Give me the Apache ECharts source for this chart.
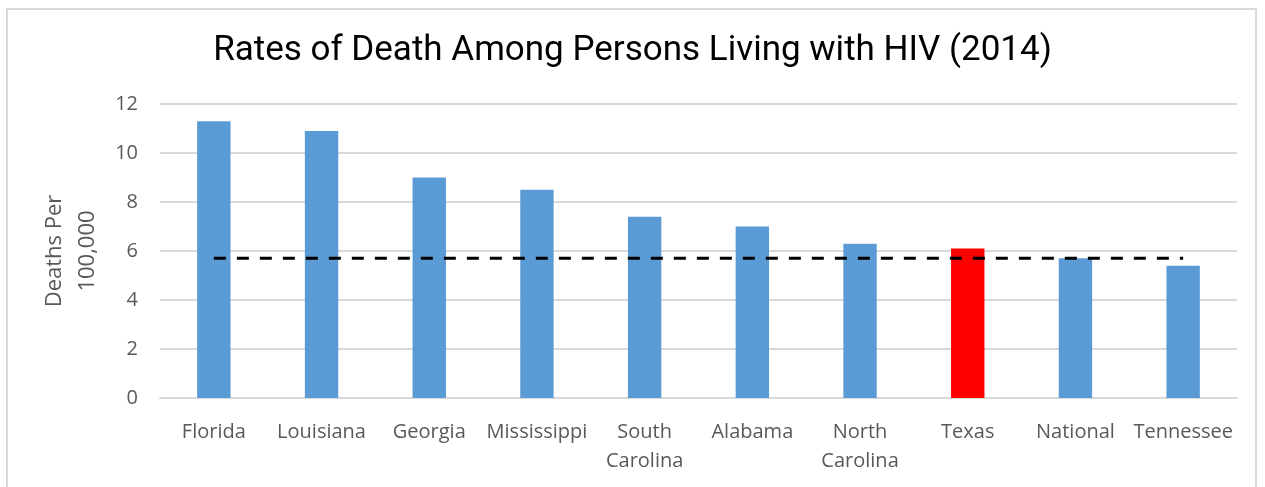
<!DOCTYPE html>
<html>
<head>
<meta charset="utf-8">
<script src="https://cdn.jsdelivr.net/npm/echarts@6/dist/echarts.min.js"></script>
<style>
  html, body { margin: 0; padding: 0; background: #fff; }
  #frame { position: absolute; left: 6px; top: 8px; width: 1251px; height: 490px; border: 2px solid #d9d9d9; box-sizing: border-box; }
  #chart { position: absolute; left: 0; top: 0; width: 1265px; height: 487px; }
</style>
</head>
<body>
<div id="frame"></div>
<div id="chart"></div>
<script>
var states = ['Florida', 'Louisiana', 'Georgia', 'Mississippi', 'South\nCarolina',
    'Alabama', 'North\nCarolina', 'Texas', 'National', 'Tennessee'];
var deathRates = [11.3, 10.9, 9.0, 8.5, 7.4, 7.0, 6.3, 6.1, 5.7, 5.4];
var nationalRate = [5.7, 5.7, 5.7, 5.7, 5.7, 5.7, 5.7, 5.7, 5.7, 5.7];
var highlight = 'Texas';

var chart = echarts.init(document.getElementById('chart'));

var barData = [];
for (var i = 0; i < states.length; i++) {
    barData.push({
        value: deathRates[i],
        itemStyle: { color: states[i] === highlight ? '#ff0000' : '#5b9bd5' }
    });
}

var labelFont = { color: '#595959', fontSize: 20, fontFamily: 'Open Sans' };

option = {
    animation: false,
    title: {
        text: 'Rates of Death Among Persons Living with HIV (2014)',
        left: 'center',
        top: 29,
        textStyle: { color: '#000', fontSize: 35, fontWeight: 'normal', fontFamily: 'Roboto' }
    },
    grid: { left: 160, right: 28, top: 104, bottom: 89 },
    xAxis: {
        type: 'category',
        data: states,
        axisLine: { lineStyle: { color: '#d9d9d9', width: 2 } },
        axisTick: { show: false },
        axisLabel: Object.assign({ margin: 20, lineHeight: 29, interval: 0 }, labelFont)
    },
    yAxis: {
        type: 'value',
        min: 0,
        max: 12,
        interval: 2,
        name: 'Deaths Per\n100,000',
        nameLocation: 'middle',
        nameGap: 45,
        nameTextStyle: Object.assign({}, labelFont, { fontSize: 22, lineHeight: 33 }),
        axisLine: { show: false },
        axisTick: { show: false },
        axisLabel: Object.assign({ margin: 22 }, labelFont),
        splitLine: { lineStyle: { color: '#d9d9d9', width: 2 } }
    },
    series: [
        {
            type: 'bar',
            data: barData,
            barWidth: '31%'
        },
        {
            type: 'line',
            data: nationalRate,
            symbol: 'none',
            lineStyle: { color: '#000', width: 3, type: [12, 11] }
        }
    ]
};
chart.setOption(option);
</script>
</body>
</html>
